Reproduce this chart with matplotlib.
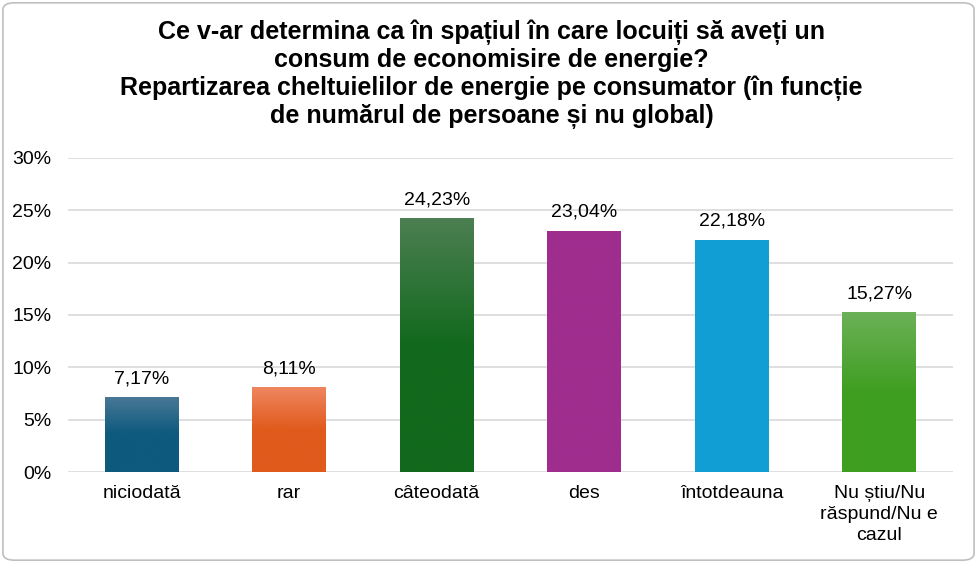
import numpy as np
import matplotlib.pyplot as plt
from matplotlib.patches import FancyBboxPatch
from matplotlib.colors import LinearSegmentedColormap
from matplotlib.ticker import FuncFormatter

plt.rcParams['font.family'] = ['Liberation Sans', 'DejaVu Sans']

categories = ['niciodată', 'rar', 'câteodată', 'des', 'întotdeauna',
              'Nu știu/Nu\nrăspund/Nu e\ncazul']
values = [7.17, 8.11, 24.23, 23.04, 22.18, 15.27]
# (top colour, bottom colour) of each bar
colors = [('#4a7896', '#0d5a7e'),
          ('#ef8660', '#e05a1c'),
          ('#4c7f52', '#12691d'),
          ('#9e2d8e', '#9e2d8e'),
          ('#109ed4', '#109ed4'),
          ('#6bb158', '#3f9e20')]
title = ('Ce v-ar determina ca în spațiul în care locuiți să aveți un\n'
         'consum de economisire de energie?\n'
         'Repartizarea cheltuielilor de energie pe consumator (în funcție\n'
         'de numărul de persoane și nu global)')

fig = plt.figure(figsize=(9.77, 5.63), dpi=100)
ax = fig.add_axes([0.0696, 0.1616, 0.9058, 0.5578])

x = np.arange(len(categories))
bars = ax.bar(x, values, width=0.5, color='none', zorder=3)

for b, (c1, c2) in zip(bars, colors):
    cmap = LinearSegmentedColormap.from_list('g', [c2, c2, c1])
    x0, y0 = b.get_x(), b.get_y()
    w, h = b.get_width(), b.get_height()
    grad = np.linspace(0, 1, 256).reshape(-1, 1)
    im = ax.imshow(grad, cmap=cmap, origin='lower', aspect='auto',
                   extent=[x0, x0 + w, y0, y0 + h], zorder=3)
    im.set_clip_path(b)
    ax.text(x0 + w / 2, h + 0.95, f'{h:.2f}%'.replace('.', ','),
            ha='center', va='bottom', fontsize=14, color='#000000')

ax.set_xlim(-0.5, len(categories) - 0.5)
ax.set_ylim(0, 30)
ax.set_yticks(np.arange(0, 31, 5))
ax.yaxis.set_major_formatter(FuncFormatter(lambda v, p: f'{v:.0f}%'))
ax.set_xticks(x)
ax.set_xticklabels(categories, fontsize=14, linespacing=1.34)
ax.tick_params(axis='y', labelsize=14, length=0, pad=12)
ax.tick_params(axis='x', length=0, pad=9)
ax.grid(axis='y', color='#d9d9d9', linewidth=1.2, zorder=0)
for s in ax.spines.values():
    s.set_visible(False)

fig.text(0.503, 0.966, title, ha='center', va='top', fontsize=18,
         fontweight='bold', linespacing=1.18)

border = FancyBboxPatch((0.003, 0.005), 0.994, 0.99,
                        boxstyle='round,pad=0,rounding_size=0.012',
                        transform=fig.transFigure, facecolor='none',
                        edgecolor='#bfbfbf', linewidth=1.2)
fig.patches.append(border)

fig.savefig('out.png', dpi=100)
